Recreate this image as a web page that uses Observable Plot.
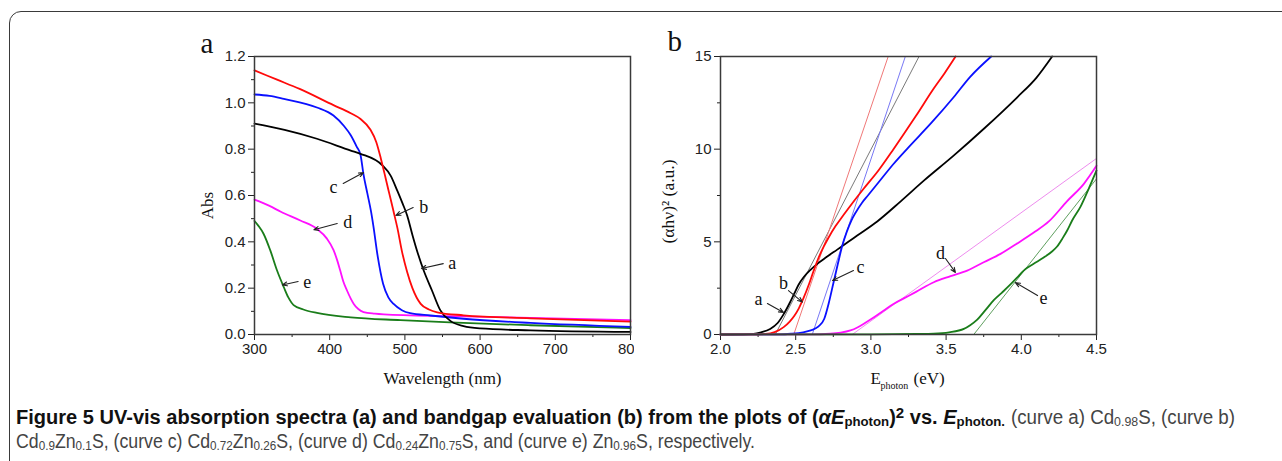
<!DOCTYPE html>
<html><head><meta charset="utf-8">
<script src="https://cdn.jsdelivr.net/npm/d3@7"></script>
<script src="https://cdn.jsdelivr.net/npm/@observablehq/plot@0.6"></script>
<style>
html,body{margin:0;padding:0;background:#fff;}
body{width:1282px;height:461px;overflow:hidden;position:relative;}
#border{position:absolute;left:9px;top:11px;width:1400px;height:600px;border:1.5px solid #3a3a3a;border-radius:12px;box-sizing:border-box;}
#pa{position:absolute;left:180px;top:20px;}
#pb{position:absolute;left:646px;top:20px;}
.cl{position:absolute;white-space:nowrap;font-family:"Liberation Sans",Arial,sans-serif;font-size:19.5px;line-height:24px;color:#444;transform-origin:0 0;}
.cl.bold{font-weight:bold;color:#111;}
.cl sub{font-size:0.66em;vertical-align:-0.15em;line-height:0;}
.cl sup{font-size:0.75em;vertical-align:0.4em;line-height:0;}
</style></head><body>
<div id="border"></div>
<div id="pa"></div>
<div id="pb"></div>
<div class="cl bold" id="l1a" style="left:16px;top:405px;">Figure 5 UV-vis absorption spectra (a) and bandgap evaluation (b) from the plots of (<i>αE</i><sub>photon</sub>)<sup>2</sup> vs. <i>E</i><sub>photon.</sub></div>
<div class="cl" id="l1b" style="left:1011px;top:405px;">(curve a) Cd<sub>0.98</sub>S, (curve b)</div>
<div class="cl" id="l2" style="left:16px;top:429px;">Cd<sub>0.9</sub>Zn<sub>0.1</sub>S, (curve c) Cd<sub>0.72</sub>Zn<sub>0.26</sub>S, (curve d) Cd<sub>0.24</sub>Zn<sub>0.75</sub>S, and (curve e) Zn<sub>0.96</sub>S, respectively.</div>
<script>
// ---------- Panel a: UV-vis absorption (wavelength nm, Abs) ----------
const absCurveA = [[300,0.91],[340,0.883],[383,0.845],[428,0.794],[441,0.78],[470,0.73],[481,0.686],[490,0.62],[497,0.565],[503,0.514],[510,0.43],[516,0.363],[525,0.276],[536,0.19],[547,0.105],[560,0.06],[578,0.036],[600,0.026],[667,0.018],[800,0.011]];
const absCurveB = [[300,1.14],[330,1.1],[360,1.06],[405,0.99],[428,0.955],[441,0.93],[454,0.885],[462,0.83],[468,0.76],[474,0.68],[478,0.625],[481,0.585],[485,0.53],[490,0.46],[496,0.36],[503,0.27],[510,0.2],[521,0.132],[532,0.108],[543,0.096],[578,0.083],[667,0.07],[800,0.056]];
const absCurveC = [[300,1.036],[320,1.03],[339,1.017],[383,0.98],[405,0.945],[419,0.9],[428,0.86],[436,0.81],[441,0.775],[445,0.69],[450,0.61],[455,0.53],[458,0.47],[464,0.334],[471,0.219],[478,0.16],[485,0.132],[496,0.105],[507,0.092],[534,0.082],[578,0.068],[667,0.05],[800,0.033]];
const absCurveD = [[300,0.582],[320,0.555],[335,0.53],[361,0.492],[383,0.456],[396,0.415],[405,0.365],[410,0.32],[414,0.276],[418,0.23],[423,0.19],[428,0.155],[432,0.132],[438,0.11],[445,0.097],[460,0.09],[472,0.087],[560,0.079],[667,0.072],[800,0.062]];
const absCurveE = [[300,0.49],[305,0.47],[312,0.435],[321,0.363],[330,0.276],[339,0.204],[345,0.16],[352,0.127],[365,0.108],[383,0.093],[428,0.074],[494,0.062],[560,0.052],[667,0.04],[800,0.028]];
const xTicksA = [300,400,500,600,700,800];
const xMinorA = [350,450,550,650,750];
const yTicksA = [0,0.2,0.4,0.6,0.8,1.0,1.2];
const yMinorA = [0.1,0.3,0.5,0.7,0.9,1.1];
const labelsA = ["a","b","c","d","e"];
const labelAX = [563,525,405,424,370];
const labelAY = [0.306,0.548,0.635,0.483,0.224];
const arrowAX1 = [551,511,418,410,358];
const arrowAY1 = [0.306,0.548,0.652,0.479,0.229];
const arrowAX2 = [522,488,445,379,337];
const arrowAY2 = [0.285,0.514,0.699,0.452,0.214];

// ---------- Panel b: (alpha h nu)^2 vs E_photon ----------
const taucA = [[2.0,0],[2.15,0.005],[2.22,0.03],[2.27,0.12],[2.33,0.3],[2.38,0.62],[2.42,1.1],[2.46,1.7],[2.49,2.2],[2.52,2.7],[2.554,3.1],[2.6,3.5],[2.65,3.85],[2.7,4.15],[2.776,4.58],[2.85,5.0],[2.909,5.34],[3.042,6.1],[3.2,7.2],[3.352,8.3],[3.55,9.65],[3.751,11.1],[3.973,12.8],[4.1,13.85],[4.205,15.0]];
const taucB = [[2.0,0],[2.2,0.005],[2.3,0.03],[2.36,0.13],[2.42,0.4],[2.46,0.7],[2.49,1.0],[2.52,1.4],[2.554,2.0],[2.59,2.75],[2.62,3.45],[2.65,4.1],[2.687,4.75],[2.72,5.25],[2.765,5.85],[2.8,6.25],[2.85,6.8],[2.95,7.85],[3.05,8.85],[3.15,10.0],[3.3,11.8],[3.42,13.3],[3.49,14.1],[3.563,15.0]];
const taucC = [[2.0,0],[2.4,0.005],[2.47,0.04],[2.55,0.12],[2.6,0.22],[2.65,0.42],[2.69,0.85],[2.72,1.7],[2.75,2.75],[2.78,3.8],[2.81,4.8],[2.84,5.55],[2.87,6.15],[2.9,6.6],[2.94,7.1],[2.98,7.5],[3.05,8.2],[3.15,9.2],[3.25,10.1],[3.4,11.4],[3.55,12.8],[3.66,13.9],[3.8,15.0]];
const taucD = [[2.0,0],[2.6,0.005],[2.73,0.04],[2.8,0.1],[2.864,0.22],[2.91,0.38],[2.953,0.58],[3.0,0.82],[3.086,1.3],[3.15,1.65],[3.219,1.95],[3.3,2.3],[3.418,2.82],[3.53,3.15],[3.64,3.45],[3.75,3.9],[3.862,4.35],[3.97,4.9],[4.083,5.5],[4.183,6.1],[4.305,7.2],[4.416,8.13],[4.5,9.1]];
const taucE = [[2.0,0],[3.0,0.01],[3.3,0.03],[3.418,0.05],[3.52,0.12],[3.618,0.3],[3.66,0.5],[3.707,0.8],[3.76,1.3],[3.817,1.85],[3.87,2.25],[3.928,2.7],[3.97,3.05],[4.016,3.45],[4.08,3.8],[4.149,4.15],[4.2,4.45],[4.238,4.75],[4.275,5.2],[4.305,5.61],[4.338,6.15],[4.394,6.9],[4.45,7.9],[4.5,8.85]];
const fitA = [[2.364,0],[3.32,15]];
const fitB = [[2.487,0],[3.115,15]];
const fitC = [[2.61,0],[3.229,15]];
const fitD = [[2.876,0],[4.5,9.5]];
const fitE = [[3.684,0],[4.5,8.4]];
const xTicksB = [2.0,2.5,3.0,3.5,4.0,4.5];
const xMinorB = [2.25,2.75,3.25,3.75,4.25];
const yTicksB = [0,5,10,15];
const yMinorB = [2.5,7.5,12.5];
const labelsB = ["a","b","c","d","e"];
const labelBX = [2.253,2.419,2.931,3.463,4.148];
const labelBY = [1.89,2.75,3.62,4.37,1.94];
const arrowBX1 = [2.312,2.452,2.884,3.496,4.108];
const arrowBY1 = [1.67,2.37,3.45,4.1,2.1];
const arrowBX2 = [2.419,2.545,2.745,3.562,3.961];
const arrowBY2 = [1.19,1.75,2.91,3.35,2.8];

const colA = "#000000", colB = "#ff0a0a", colC = "#0a10ff", colD = "#ff10ff", colE = "#1a7d1a";
const serif = "'Liberation Serif','Times New Roman',serif";
const sans = "'Liberation Sans',Arial,sans-serif";
const px = d => d[0], py = d => d[1];

function axes(xt, xm, yt, ym, xf, yf) {
  return [
    Plot.axisX(xt, {tickSize: 6, tickPadding: 3, tickFormat: xf, label: null, color: "#222", fontSize: 15}),
    Plot.axisX(xm, {tickSize: 3, text: null, label: null, color: "#222"}),
    Plot.axisY(yt, {tickSize: 6, tickPadding: 3, tickFormat: yf, label: null, color: "#222", fontSize: 15}),
    Plot.axisY(ym, {tickSize: 3, text: null, label: null, color: "#222"}),
  ];
}
const tx = {fontFamily: serif, fill: "#111", lineAnchor: "middle"};

const plotA = Plot.plot({
  width: 454, height: 380,
  marginLeft: 74, marginRight: 4, marginTop: 36, marginBottom: 66,
  x: {domain: [300, 800]},
  y: {domain: [0, 1.2]},
  style: {fontFamily: sans, fontSize: "15px", overflow: "hidden", background: "transparent", color: "#222"},
  marks: [
    ...axes(xTicksA, xMinorA, yTicksA, yMinorA, d => String(d), d => d.toFixed(1)),
    Plot.line(absCurveE, {x: px, y: py, stroke: colE, strokeWidth: 1.8, curve: "monotone-x"}),
    Plot.line(absCurveD, {x: px, y: py, stroke: colD, strokeWidth: 1.8, curve: "monotone-x"}),
    Plot.line(absCurveC, {x: px, y: py, stroke: colC, strokeWidth: 1.8, curve: "monotone-x"}),
    Plot.line(absCurveA, {x: px, y: py, stroke: colA, strokeWidth: 1.8, curve: "monotone-x"}),
    Plot.line(absCurveB, {x: px, y: py, stroke: colB, strokeWidth: 1.8, curve: "monotone-x"}),
    Plot.arrow(arrowAX1, {x1: arrowAX1, y1: arrowAY1, x2: arrowAX2, y2: arrowAY2, stroke: "#222", strokeWidth: 1.1, headLength: 7, headAngle: 45}),
    Plot.text(labelsA, {x: labelAX, y: labelAY, text: d => d, fontSize: 18, ...tx}),
    Plot.frame({stroke: "#3a3a3a", strokeWidth: 1.5}),
    Plot.text(["a"], {frameAnchor: "top-left", dx: -54, dy: -12.5, text: d => d, textAnchor: "start", fontSize: 29, ...tx}),
    Plot.text(["Abs"], {frameAnchor: "left", dx: -47, dy: 10, rotate: -90, text: d => d, textAnchor: "middle", fontSize: 17, ...tx}),
    Plot.text(["Wavelength (nm)"], {frameAnchor: "bottom", dy: 44, text: d => d, textAnchor: "middle", fontSize: 17, ...tx})
  ]
});
document.getElementById("pa").appendChild(plotA);

const plotB = Plot.plot({
  width: 470, height: 380,
  marginLeft: 74, marginRight: 20, marginTop: 36, marginBottom: 66,
  x: {domain: [2.0, 4.5]},
  y: {domain: [0, 15]},
  style: {fontFamily: sans, fontSize: "15px", overflow: "visible", background: "transparent", color: "#222"},
  marks: [
    ...axes(xTicksB, xMinorB, yTicksB, yMinorB, d => d.toFixed(1), d => String(d)),
    Plot.line(fitA, {x: px, y: py, stroke: "#7a7a7a", strokeWidth: 1, clip: true}),
    Plot.line(fitB, {x: px, y: py, stroke: "#f07878", strokeWidth: 1, clip: true}),
    Plot.line(fitC, {x: px, y: py, stroke: "#7878f5", strokeWidth: 1, clip: true}),
    Plot.line(fitD, {x: px, y: py, stroke: "#ee8cee", strokeWidth: 1, clip: true}),
    Plot.line(fitE, {x: px, y: py, stroke: "#5f9f5f", strokeWidth: 1, clip: true}),
    Plot.line(taucA, {x: px, y: py, stroke: colA, strokeWidth: 1.8, curve: "monotone-x"}),
    Plot.line(taucC, {x: px, y: py, stroke: colC, strokeWidth: 1.8, curve: "monotone-x"}),
    Plot.line(taucB, {x: px, y: py, stroke: colB, strokeWidth: 1.8, curve: "monotone-x"}),
    Plot.line(taucD, {x: px, y: py, stroke: colD, strokeWidth: 1.8, curve: "monotone-x"}),
    Plot.line(taucE, {x: px, y: py, stroke: colE, strokeWidth: 1.8, curve: "monotone-x"}),
    Plot.arrow(arrowBX1, {x1: arrowBX1, y1: arrowBY1, x2: arrowBX2, y2: arrowBY2, stroke: "#222", strokeWidth: 1.1, headLength: 7, headAngle: 45}),
    Plot.text(labelsB, {x: labelBX, y: labelBY, text: d => d, fontSize: 18, ...tx}),
    Plot.frame({stroke: "#3a3a3a", strokeWidth: 1.5}),
    Plot.text(["b"], {frameAnchor: "top-left", dx: -53, dy: -15, text: d => d, textAnchor: "start", fontSize: 29, ...tx}),
    Plot.text(["(αhν)² (a.u.)"], {frameAnchor: "left", dx: -52, dy: 6, rotate: -90, text: d => d, textAnchor: "middle", fontSize: 17.5, ...tx}),
    Plot.text(["E"], {frameAnchor: "bottom-left", dx: 150, dy: 44, text: d => d, textAnchor: "start", fontSize: 17, ...tx}),
    Plot.text(["photon"], {frameAnchor: "bottom-left", dx: 160, dy: 51, text: d => d, textAnchor: "start", fontSize: 10, ...tx}),
    Plot.text(["(eV)"], {frameAnchor: "bottom-left", dx: 193, dy: 44, text: d => d, textAnchor: "start", fontSize: 17, ...tx})
  ]
});
document.getElementById("pb").appendChild(plotB);

// fit caption lines to the reference's widths (condensed face)
function fitLine(id, right) {
  const el = document.getElementById(id);
  const left = parseFloat(el.style.left);
  const w = el.getBoundingClientRect().width;
  el.style.transform = `scaleX(${(right - left) / w})`;
}
fitLine("l1a", 1005);
fitLine("l1b", 1235);
fitLine("l2", 755);
</script>
</body></html>
